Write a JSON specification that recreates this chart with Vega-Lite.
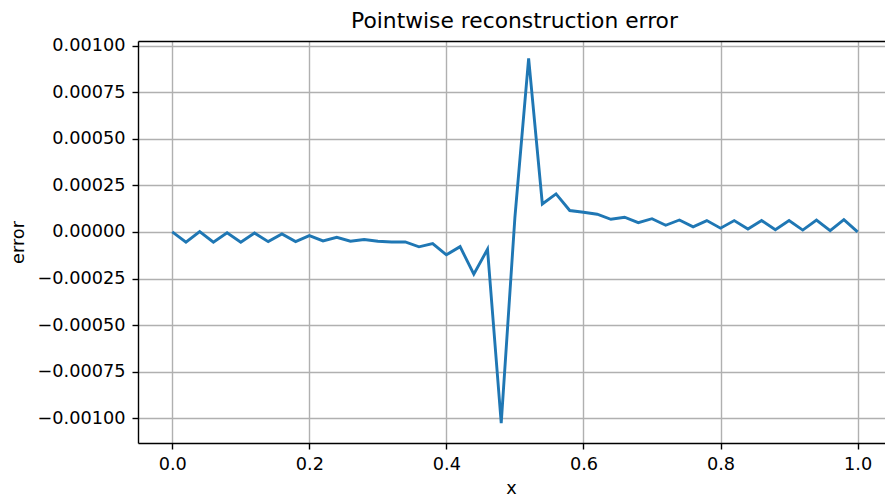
{
  "$schema": "https://vega.github.io/schema/vega-lite/v6.json",
  "autosize": {"type": "none"},
  "width": 747,
  "height": 402,
  "padding": {"left": 138, "top": 41, "right": 0, "bottom": 54},
  "background": "white",
  "config": {
    "font": "DejaVu Sans",
    "view": {"stroke": null},
    "axis": {
      "labelFont": "DejaVu Sans",
      "titleFont": "DejaVu Sans",
      "labelFontSize": 17.7,
      "titleFontSize": 17.7,
      "labelColor": "#000000",
      "titleColor": "#000000",
      "titleFontWeight": "normal",
      "domainColor": "#000000",
      "domainWidth": 1.4,
      "tickColor": "#000000",
      "tickWidth": 1.4,
      "tickSize": 6,
      "labelPadding": 6,
      "gridColor": "#b0b0b0",
      "gridWidth": 1.4
    }
  },
  "title": {
    "text": "Pointwise reconstruction error",
    "font": "DejaVu Sans",
    "fontSize": 21.8,
    "fontWeight": "normal",
    "color": "#000000",
    "anchor": "middle",
    "baseline": "alphabetic",
    "offset": 12,
    "dx": 3,
    "dy": 25
  },
  "data": {
    "values": [
      {"x": 0.00, "error": 0},
      {"x": 0.02, "error": -0.000055},
      {"x": 0.04, "error": 0.000002},
      {"x": 0.06, "error": -0.000055},
      {"x": 0.08, "error": -0.000004},
      {"x": 0.10, "error": -0.000055},
      {"x": 0.12, "error": -0.000006},
      {"x": 0.14, "error": -0.000052},
      {"x": 0.16, "error": -0.000011},
      {"x": 0.18, "error": -0.000052},
      {"x": 0.20, "error": -0.00002},
      {"x": 0.22, "error": -0.000048},
      {"x": 0.24, "error": -0.000029},
      {"x": 0.26, "error": -0.00005},
      {"x": 0.28, "error": -0.000041},
      {"x": 0.30, "error": -0.00005},
      {"x": 0.32, "error": -0.000054},
      {"x": 0.34, "error": -0.000054},
      {"x": 0.36, "error": -0.00008},
      {"x": 0.38, "error": -0.000063},
      {"x": 0.40, "error": -0.000123},
      {"x": 0.42, "error": -0.000079},
      {"x": 0.44, "error": -0.000227},
      {"x": 0.46, "error": -0.000093},
      {"x": 0.48, "error": -0.001026},
      {"x": 0.50, "error": 0.00008},
      {"x": 0.52, "error": 0.000932},
      {"x": 0.54, "error": 0.00015},
      {"x": 0.56, "error": 0.000204},
      {"x": 0.58, "error": 0.000115},
      {"x": 0.60, "error": 0.000106},
      {"x": 0.62, "error": 0.000095},
      {"x": 0.64, "error": 0.000068},
      {"x": 0.66, "error": 0.000079},
      {"x": 0.68, "error": 0.00005},
      {"x": 0.70, "error": 0.000071},
      {"x": 0.72, "error": 0.000036},
      {"x": 0.74, "error": 0.000064},
      {"x": 0.76, "error": 0.000027},
      {"x": 0.78, "error": 0.000061},
      {"x": 0.80, "error": 0.00002},
      {"x": 0.82, "error": 0.000061},
      {"x": 0.84, "error": 0.000016},
      {"x": 0.86, "error": 0.000061},
      {"x": 0.88, "error": 0.000012},
      {"x": 0.90, "error": 0.000061},
      {"x": 0.92, "error": 0.00001},
      {"x": 0.94, "error": 0.000064},
      {"x": 0.96, "error": 0.000007},
      {"x": 0.98, "error": 0.000066},
      {"x": 1.00, "error": 0}
    ]
  },
  "layer": [
    {
      "mark": {"type": "line", "color": "#1f77b4", "strokeWidth": 2.9, "strokeJoin": "miter", "clip": true},
      "encoding": {
        "x": {
          "field": "x",
          "type": "quantitative",
          "scale": {"domain": [-0.05, 1.04], "nice": false, "zero": false},
          "axis": {
            "orient": "bottom",
            "values": [0, 0.2, 0.4, 0.6, 0.8, 1.0],
            "format": ".1f",
            "grid": true,
            "title": "x",
            "titleX": 373,
            "titleY": 45,
            "titleBaseline": "middle",
            "titleAlign": "center"
          }
        },
        "y": {
          "field": "error",
          "type": "quantitative",
          "scale": {"domain": [-0.001133, 0.001025], "nice": false, "zero": false},
          "axis": {
            "values": [-0.001, -0.00075, -0.0005, -0.00025, 0, 0.00025, 0.0005, 0.00075, 0.001],
            "format": ".5f",
            "grid": true,
            "labelPadding": 7,
            "title": "error",
            "titleAngle": -90,
            "titleX": -120,
            "titleY": 201,
            "titleBaseline": "middle",
            "titleAlign": "center"
          }
        }
      }
    },
    {
      "mark": {"type": "point", "opacity": 0},
      "encoding": {
        "x": {
          "field": "x",
          "type": "quantitative",
          "axis": {
            "orient": "top",
            "labels": false,
            "ticks": false,
            "grid": false,
            "title": null,
            "domain": true
          }
        }
      }
    }
  ],
  "resolve": {"axis": {"x": "independent"}}
}
